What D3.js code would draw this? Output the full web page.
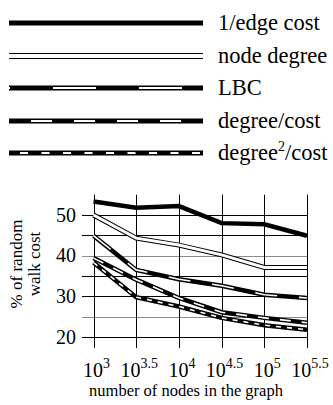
<!DOCTYPE html>
<html>
<head>
<meta charset="utf-8">
<script src="https://cdn.jsdelivr.net/npm/d3@7"></script>
<style>
  body { margin: 0; background: #fff; }
  svg { display: block; }
</style>
</head>
<body>
<div id="app"></div>
<script>
// x positions are log10 of node count
const exponents = [3, 3.5, 4, 4.5, 5, 5.5]
const tickLabels = ['3', '3.5', '4', '4.5', '5', '5.5']
const yTicks = [20, 30, 40, 50]
const gridValues = [20, 25, 30, 35, 40, 45, 50]

const seriesNames = ['1/edge cost', 'node degree', 'LBC', 'degree/cost', 'degree2/cost']
const edgeCost = [53.3, 51.8, 52.2, 48.0, 47.7, 44.9]
const nodeDegree = [50.0, 44.3, 42.6, 40.2, 37.1, 37.1]
const lbc = [44.9, 36.5, 34.2, 32.6, 30.4, 29.6]
const degreeCost = [39.4, 34.1, 29.6, 26.1, 24.7, 23.5]
const degree2Cost = [38.3, 29.8, 27.5, 24.7, 22.9, 21.8]

const allSeries = [edgeCost, nodeDegree, lbc, degreeCost, degree2Cost]

// black line with an optional white centre stroke
const styles = [
  { black: 4.5, white: 0, dash: null, legendDash: null },
  { black: 5, white: 3, dash: null, legendDash: null, legendBlack: 6, legendWhite: 4 },
  { black: 4.5, white: 1.6, dash: '22,22', legendDash: '43,43', legendOffset: 42 },
  { black: 4.5, white: 1.6, dash: '11,11', legendDash: '21,22', legendOffset: 21 },
  { black: 4.5, white: 1.6, dash: '5,6', legendDash: '8,13.5', legendOffset: 10.5 }
]

const width = 333, height = 405
const serif = "'Liberation Serif', 'Times New Roman', serif"

const svg = d3.select('#app').append('svg')
  .attr('width', width)
  .attr('height', height)

// ---- legend ----
const legendY = d3.scalePoint().domain(seriesNames).range([23, 153])
const legend = svg.append('g')

seriesNames.forEach((name, i) => {
  const s = styles[i]
  const y = Math.round(legendY(name))
  legend.append('line')
    .attr('x1', 9).attr('x2', 203).attr('y1', y).attr('y2', y)
    .attr('stroke', '#000')
    .attr('stroke-width', s.legendBlack || 5)
  if (s.white || s.legendWhite) {
    legend.append('line')
      .attr('x1', 9).attr('x2', 203).attr('y1', y).attr('y2', y)
      .attr('stroke', '#fff')
      .attr('stroke-width', s.legendWhite || 2)
      .attr('stroke-dasharray', s.legendDash)
      .attr('stroke-dashoffset', s.legendOffset || 0)
  }
  const t = legend.append('text')
    .attr('x', 218).attr('y', y + 7)
    .style('font-family', serif)
    .attr('font-size', 22.5)
  if (name === 'degree2/cost') {
    t.append('tspan').text('degree')
    t.append('tspan').attr('dy', -9).attr('font-size', 14).text('2')
    t.append('tspan').attr('dy', 9).text('/cost')
  } else {
    t.text(name)
  }
})

// ---- chart ----
const x = d3.scaleLinear().domain([3, 5.5]).range([93.5, 307])
const y = d3.scaleLinear().domain([20, 50]).range([337, 215])

const grid = svg.append('g')

grid.selectAll('line.h')
  .data(gridValues)
  .join('line')
  .attr('class', 'h')
  .attr('x1', 82).attr('x2', x(5.5))
  .attr('y1', d => Math.round(y(d)) + 0.5)
  .attr('y2', d => Math.round(y(d)) + 0.5)
  .attr('stroke', d => (d === 25 || d === 40) ? '#8c8c8c' : '#000')
  .attr('stroke-width', 1)

grid.selectAll('line.v')
  .data(exponents)
  .join('line')
  .attr('class', 'v')
  .attr('x1', d => Math.round(x(d)) + 0.5)
  .attr('x2', d => Math.round(x(d)) + 0.5)
  .attr('y1', y(55)).attr('y2', 348)
  .attr('stroke', '#000')
  .attr('stroke-width', 1)

// y tick labels
svg.append('g')
  .selectAll('text')
  .data(yTicks)
  .join('text')
  .attr('x', 76)
  .attr('y', d => y(d) + 6.5)
  .attr('text-anchor', 'end')
  .style('font-family', serif)
  .attr('font-size', 20)
  .text(d => d)

// x tick labels: 10^e
const xl = svg.append('g')
  .selectAll('text')
  .data(exponents)
  .join('text')
  .attr('x', d => x(d) + 3)
  .attr('y', 377)
  .attr('text-anchor', 'middle')
  .style('font-family', serif)
  .attr('font-size', 20)
xl.append('tspan').text('10')
xl.append('tspan').attr('dy', -9).attr('font-size', 14).text((d, i) => tickLabels[i])

// axis titles
svg.append('text')
  .attr('x', 186).attr('y', 396)
  .attr('text-anchor', 'middle')
  .style('font-family', serif)
  .attr('font-size', 16.5)
  .text('number of nodes in the graph')

const yTitle = svg.append('text')
  .attr('transform', 'translate(0,264) rotate(-90)')
  .attr('text-anchor', 'middle')
  .style('font-family', serif)
  .attr('font-size', 17)
yTitle.append('tspan').attr('x', 0).attr('y', 22).text('% of random')
yTitle.append('tspan').attr('x', 0).attr('y', 40).text('walk cost')

// series lines
const line = d3.line()
  .x((d, i) => x(exponents[i]))
  .y(d => y(d))

const lines = svg.append('g')
allSeries.forEach((vals, i) => {
  const s = styles[i]
  lines.append('path')
    .attr('d', line(vals))
    .attr('fill', 'none')
    .attr('stroke', '#000')
    .attr('stroke-width', s.black)
  if (s.white) {
    lines.append('path')
      .attr('d', line(vals))
      .attr('fill', 'none')
      .attr('stroke', '#fff')
      .attr('stroke-width', s.white)
      .attr('stroke-dasharray', s.dash)
  }
})
</script>
</body>
</html>
